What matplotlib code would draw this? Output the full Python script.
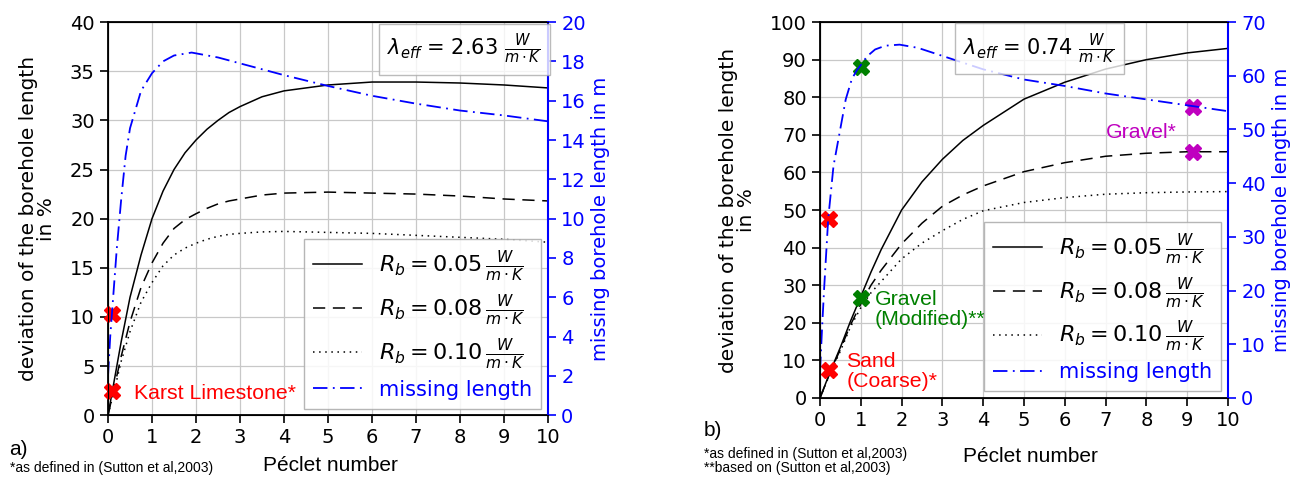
import numpy as np
import matplotlib.pyplot as plt
from matplotlib.lines import Line2D

# ============================================
# data
# ============================================
# panel a) lambda_eff = 2.63
xa = [0, 0.1, 0.2, 0.3, 0.5, 0.75, 1, 1.25, 1.5, 1.75, 2, 2.25, 2.5, 2.75, 3, 3.5, 4, 5, 6, 7, 8, 9, 10]
a_rb005 = [0, 2.5, 5, 7.5, 12, 16.3, 20, 22.8, 25, 26.7, 28, 29.1, 30, 30.8, 31.4, 32.4, 33, 33.6, 33.9, 33.9, 33.8, 33.6, 33.3]
a_rb008 = [0, 2, 4, 6, 9.5, 13, 15.5, 17.5, 19, 19.9, 20.5, 21.05, 21.5, 21.8, 22, 22.4, 22.6, 22.7, 22.6, 22.5, 22.3, 22.0, 21.8]
a_rb010 = [0, 1.8, 3.6, 5.5, 8.5, 11.5, 13.5, 15.2, 16.3, 17.0, 17.5, 17.9, 18.2, 18.4, 18.5, 18.65, 18.7, 18.6, 18.5, 18.3, 18.1, 17.9, 17.6]
xa_miss = [0, 0.05, 0.1, 0.2, 0.3, 0.4, 0.5, 0.75, 1, 1.25, 1.5, 1.9, 2.5, 3, 4, 5, 6, 7, 8, 9, 10]
a_miss = [2, 4, 5.5, 8.5, 11, 13.2, 14.6, 16.5, 17.4, 18, 18.3, 18.45, 18.2, 17.9, 17.3, 16.75, 16.25, 15.85, 15.5, 15.25, 14.95]
a_marks_x = [0.1, 0.1]
a_marks_y = [10.3, 2.5]

# panel b) lambda_eff = 0.74
xb = [0, 0.25, 0.5, 0.75, 1, 1.25, 1.5, 2, 2.5, 3, 3.5, 4, 5, 6, 7, 8, 9, 10]
b_rb005 = [0, 7, 13.5, 20.5, 27, 33.5, 39.5, 50, 57.5, 63.5, 68.5, 72.5, 79.5, 84, 87.5, 90, 91.8, 93]
b_rb008 = [0, 6.8, 13, 19.5, 25, 30, 34, 41, 46.5, 51, 54, 56.4, 60.2, 62.6, 64.3, 65.1, 65.5, 65.5]
b_rb010 = [0, 6.6, 12.5, 19, 24, 28, 31, 37, 41.2, 44.5, 47.5, 49.8, 52, 53.3, 54.2, 54.6, 54.8, 54.9]
xb_miss = [0, 0.05, 0.1, 0.2, 0.33, 0.48, 0.63, 0.78, 0.9, 1, 1.15, 1.35, 1.6, 1.95, 2.4, 3, 4, 5, 6, 7, 8, 9, 10]
b_miss = [5, 13, 20.3, 33.3, 43.2, 49.4, 55.6, 59.4, 61.0, 62.0, 63.6, 64.9, 65.6, 65.8, 65.2, 63.7, 61.2, 59.3, 58.1, 56.7, 55.6, 54.5, 53.4]
b_marks_x = [0.22, 0.22, 1.0, 1.0, 9.15, 9.15]
b_marks_y = [47.5, 7.5, 88, 26.5, 77.5, 65.5]
b_marks_c = ["red", "red", "green", "green", "m", "m"]

unit = r"\frac{W}{m\cdot K}"
rb_labels = [r"$R_b = 0.05\,%s$" % unit, r"$R_b = 0.08\,%s$" % unit, r"$R_b = 0.10\,%s$" % unit]
ARIAL = "Liberation Sans"

fig = plt.figure(figsize=(13.11, 4.80), dpi=100)
ax1 = fig.add_axes([0.0824, 0.135, 0.3356, 0.819])
ax2 = fig.add_axes([0.6255, 0.171, 0.3112, 0.783])


def draw_panel(ax, x, s1, s2, s3, xm, miss, ylim, ylim2, yt, yt2, lam, box_x, box_ha):
    ax.plot(x, s1, color="black", lw=1.1, ls="-")
    ax.plot(x, s2, color="black", lw=1.1, ls=(0, (8, 5)))
    ax.plot(x, s3, color="black", lw=1.1, ls=(0, (1, 3)))
    ax.set_xlim(0, 10)
    ax.set_ylim(*ylim)
    ax.set_xticks(range(11))
    ax.set_yticks(yt)
    ax.grid(color="#c8c8c8", lw=0.9)
    ax.tick_params(labelsize=14, length=6, width=1.2)
    ax.set_ylabel("deviation of the borehole length\nin %", fontsize=14.5,
                  linespacing=0.95, labelpad=10)
    for sp in ax.spines.values():
        sp.set_linewidth(1.3)

    axr = ax.twinx()
    axr.plot(xm, miss, color="blue", lw=1.3, ls=(0, (8, 3, 1, 3)))
    axr.set_ylim(*ylim2)
    axr.set_yticks(yt2)
    axr.tick_params(labelsize=14, colors="blue", length=6, width=1.2)
    axr.spines["right"].set_color("blue")
    axr.spines["right"].set_linewidth(1.5)
    axr.set_ylabel("missing borehole length in m", color="blue", fontsize=14)

    handles = [Line2D([], [], color="black", lw=1.1, ls="-"),
               Line2D([], [], color="black", lw=1.1, ls=(0, (8, 5))),
               Line2D([], [], color="black", lw=1.1, ls=(0, (1, 3))),
               Line2D([], [], color="blue", lw=1.3, ls=(0, (8, 3, 1, 3)))]
    leg = axr.legend(handles, rb_labels + ["missing length"], loc="lower right",
                     fontsize=16, handlelength=2.2, labelspacing=0.4,
                     fancybox=False, framealpha=0.85, borderaxespad=0.3)
    leg.get_frame().set_edgecolor("#aaaaaa")
    leg.get_texts()[3].set_color("blue")
    leg.get_texts()[3].set_fontsize(15)

    axr.text(box_x, 0.975, r"$\lambda_{eff}$ = %s $%s$" % (lam, unit),
             transform=ax.transAxes, ha=box_ha, va="top", fontsize=15,
             bbox=dict(boxstyle="square,pad=0.4", fc="white", ec="#aaaaaa", alpha=0.8))
    return axr


ax1r = draw_panel(ax1, xa, a_rb005, a_rb008, a_rb010, xa_miss, a_miss,
                  (0, 40), (0, 20), range(0, 41, 5), range(0, 21, 2), "2.63", 0.985, "right")
ax2r = draw_panel(ax2, xb, b_rb005, b_rb008, b_rb010, xb_miss, b_miss,
                  (0, 100), (0, 70), range(0, 101, 10), range(0, 71, 10), "0.74", 0.537, "center")

# markers
ax1.plot(a_marks_x, a_marks_y, ls="none", marker="X", ms=11, color="red", clip_on=False, zorder=5)
ax1.text(0.6, 2.2, "Karst Limestone*", color="red", fontsize=15.3, family=ARIAL, va="center")

for mx, my, mc in zip(b_marks_x, b_marks_y, b_marks_c):
    ax2.plot(mx, my, ls="none", marker="X", ms=11, color=mc, clip_on=False, zorder=5)
ax2.text(0.65, 3.0, "Sand\n(Coarse)*", color="red", fontsize=15.3, family=ARIAL, linespacing=1.05)
ax2.text(1.35, 19.5, "Gravel\n(Modified)**", color="green", fontsize=15.3, family=ARIAL, linespacing=1.05)
ax2.text(7.0, 70.5, "Gravel*", color="m", fontsize=15.3, family=ARIAL, va="center")

# labels and notes
fig.text(0.252, 0.018, "Péclet number", ha="center", va="baseline", fontsize=15, family=ARIAL)
fig.text(0.786, 0.037, "Péclet number", ha="center", va="baseline", fontsize=15, family=ARIAL)
fig.text(0.007, 0.052, "a)", va="baseline", fontsize=15, family=ARIAL)
fig.text(0.537, 0.092, "b)", va="baseline", fontsize=15, family=ARIAL)
fig.text(0.008, 0.017, "*as defined in (Sutton et al,2003)", va="baseline", fontsize=10, family=ARIAL)
fig.text(0.537, 0.046, "*as defined in (Sutton et al,2003)", va="baseline", fontsize=10, family=ARIAL)
fig.text(0.537, 0.017, "**based on (Sutton et al,2003)", va="baseline", fontsize=10, family=ARIAL)

fig.savefig("out.png", dpi=100)
